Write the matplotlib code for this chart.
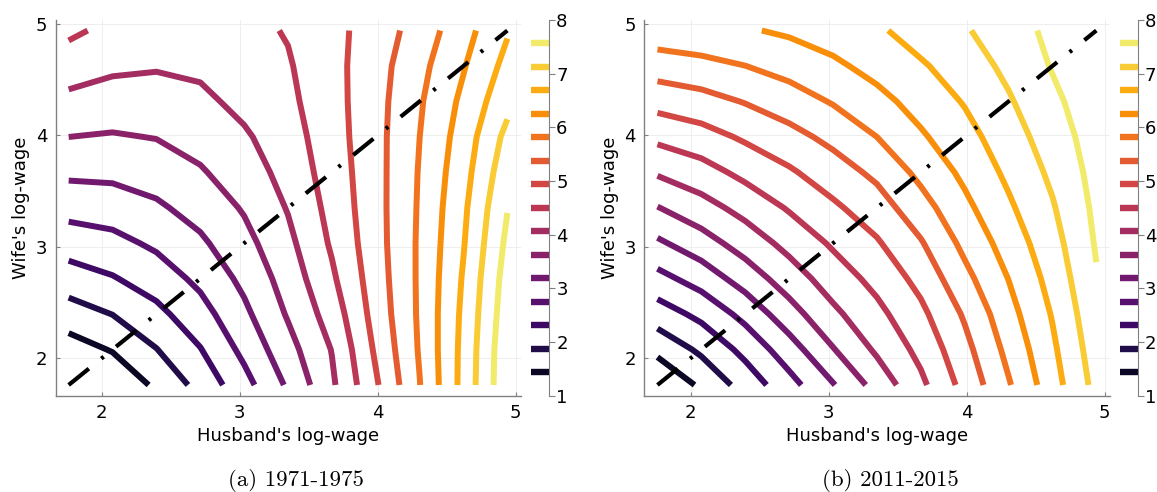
import numpy as np
import matplotlib
matplotlib.use("Agg")
import matplotlib.pyplot as plt
from matplotlib import colors as mcolors

# log-wage grid (same on both axes)
husband_logwage = [1.76, 2.078, 2.396, 2.714, 3.032, 3.35, 3.668, 3.986, 4.304, 4.622, 4.94]
wife_logwage = [1.76, 2.078, 2.396, 2.714, 3.032, 3.35, 3.668, 3.986, 4.304, 4.622, 4.94]

# surface values: rows = wife's log-wage, cols = husband's log-wage
z_1971_1975 = [
    [0.95, 1.055, 1.52, 2.014, 2.595, 3.25, 3.99, 4.879, 5.798, 6.829, 7.899],
    [1.233, 1.469, 1.862, 2.293, 2.863, 3.471, 4.078, 5.001, 5.852, 6.811, 7.879],
    [1.675, 1.883, 2.194, 2.579, 3.091, 3.668, 4.253, 5.103, 5.875, 6.778, 7.812],
    [2.106, 2.280, 2.518, 2.855, 3.296, 3.81, 4.427, 5.161, 5.878, 6.728, 7.75],
    [2.514, 2.620, 2.829, 3.112, 3.484, 3.952, 4.556, 5.202, 5.875, 6.661, 7.653],
    [2.903, 2.961, 3.119, 3.352, 3.667, 4.09, 4.637, 5.218, 5.859, 6.605, 7.547],
    [3.274, 3.289, 3.385, 3.584, 3.835, 4.22, 4.696, 5.222, 5.841, 6.527, 7.402],
    [3.626, 3.589, 3.641, 3.778, 4.002, 4.31, 4.746, 5.228, 5.811, 6.446, 7.248],
    [3.954, 3.872, 3.870, 3.963, 4.182, 4.40, 4.779, 5.218, 5.765, 6.346, 7.0],
    [4.274, 4.141, 4.10, 4.148, 4.28, 4.46, 4.799, 5.196, 5.687, 6.22, 6.817],
    [4.588, 4.385, 4.27, 4.33, 4.38, 4.53, 4.807, 5.137, 5.566, 6.09, 6.65],
]

z_2011_2015 = [
    [1.00, 1.518, 2.048, 2.593, 3.159, 3.784, 4.405, 5.076, 5.772, 6.505, 7.26],
    [1.557, 1.96, 2.44, 2.989, 3.60, 4.134, 4.621, 5.243, 5.933, 6.609, 7.35],
    [2.095, 2.426, 2.884, 3.444, 3.967, 4.38, 4.834, 5.428, 6.095, 6.717, 7.44],
    [2.611, 2.933, 3.381, 3.844, 4.271, 4.632, 5.073, 5.686, 6.258, 6.84, 7.53],
    [3.113, 3.436, 3.818, 4.196, 4.559, 4.89, 5.335, 5.924, 6.438, 6.963, 7.60],
    [3.609, 3.896, 4.208, 4.542, 4.861, 5.172, 5.638, 6.144, 6.617, 7.086, 7.655],
    [4.113, 4.326, 4.618, 4.878, 5.169, 5.474, 5.927, 6.347, 6.779, 7.212, 7.712],
    [4.603, 4.767, 5.002, 5.231, 5.494, 5.813, 6.192, 6.533, 6.929, 7.338, 7.77],
    [5.097, 5.219, 5.399, 5.606, 5.846, 6.113, 6.418, 6.719, 7.078, 7.465, 7.83],
    [5.585, 5.677, 5.809, 5.973, 6.163, 6.40, 6.635, 6.904, 7.228, 7.592, 7.89],
    [6.073, 6.14, 6.21, 6.316, 6.464, 6.62, 6.88, 7.08, 7.378, 7.66, 7.953],
]

levels = [1.4375, 1.875, 2.3125, 2.75, 3.1875, 3.625, 4.0625, 4.5,
          4.9375, 5.375, 5.8125, 6.25, 6.6875, 7.125, 7.5625]
cbar_range = (1, 8)
cbar_ticks = [1, 2, 3, 4, 5, 6, 7, 8]
axis_ticks = [2, 3, 4, 5]
captions = ["(a) 1971-1975", "(b) 2011-2015"]

plt.rcParams["font.family"] = ["DejaVu Sans"]
plt.rcParams["font.size"] = 13
plt.rcParams["lines.scale_dashes"] = False

W, H = 1157, 492
fig = plt.figure(figsize=(W / 100, H / 100), dpi=100)

cmap = plt.get_cmap("inferno")
norm = mcolors.Normalize(*cbar_range)
line_colors = [cmap(norm(v)) for v in levels]

x = np.array(husband_logwage)
y = np.array(wife_logwage)
pad = 0.03 * (x.max() - x.min())

bottom = (H - 395.6) / H
height = (395.6 - 19.9) / H
layout = [
    # main axes left/right px, colorbar left/right px, caption centre px
    (z_1971_1975, 55.5, 520.5, 531, 549.3, 296),
    (z_2011_2015, 644.3, 1109.5, 1120, 1137.7, 890),
]

for (z, l, r, cl, cr, capx), cap in zip(layout, captions):
    ax = fig.add_axes([l / W, bottom, (r - l) / W, height])
    cs = ax.contour(x, y, np.array(z), levels=levels, colors=line_colors,
                    linewidths=4.3)
    cs.set_capstyle("butt")
    ax.plot([x.min(), x.max()], [y.min(), y.max()], color="black", lw=3.0,
            dashes=(18.7, 11.5, 2.2, 11.5), dash_capstyle="butt")
    ax.set_xlim(x.min() - pad, x.max() + pad)
    ax.set_ylim(y.min() - pad, y.max() + pad)
    ax.set_xticks(axis_ticks)
    ax.set_yticks(axis_ticks)
    ax.grid(True, color="#ebebeb", lw=0.6)
    ax.set_axisbelow(True)
    for s in ["top", "right"]:
        ax.spines[s].set_visible(False)
    for s in ["left", "bottom"]:
        ax.spines[s].set_color("#808080")
        ax.spines[s].set_linewidth(1.0)
    ax.tick_params(direction="in", length=3, color="#808080", pad=6)
    ax.set_xlabel("Husband's log-wage", labelpad=4)
    ax.set_ylabel("Wife's log-wage", labelpad=4)

    cax = fig.add_axes([cl / W, bottom, (cr - cl) / W, height])
    cax.hlines(levels, 0, 1, colors=line_colors, lw=4.6)
    cax.set_xlim(0, 1)
    cax.set_ylim(*cbar_range)
    cax.set_yticks(cbar_ticks)
    cax.set_xticks([])
    cax.yaxis.tick_right()
    for s in ["top", "left", "bottom"]:
        cax.spines[s].set_visible(False)
    cax.spines["right"].set_color("#808080")
    cax.tick_params(axis="y", direction="out", length=4, color="#808080", pad=1)

    fig.text(capx / W, 1 - 481 / H, cap, family="cmr10", size=16.5,
             ha="center", va="center")

fig.savefig("out.png", dpi=100)
